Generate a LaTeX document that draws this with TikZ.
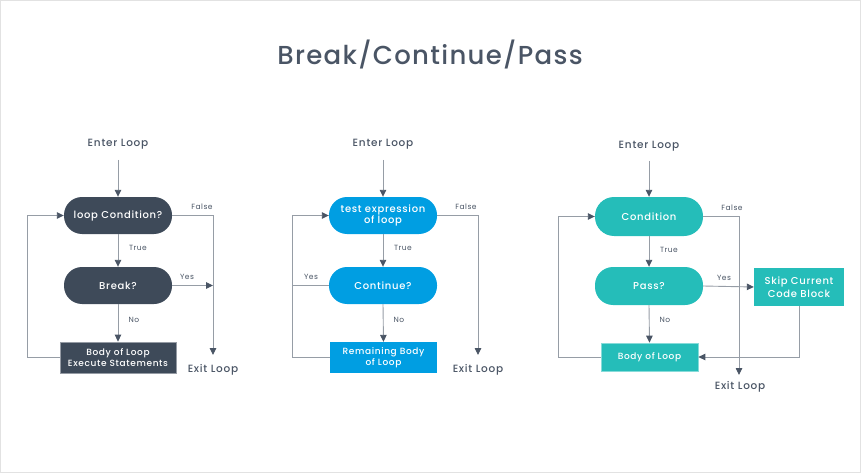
\documentclass[tikz,border=0pt]{standalone}
\usepackage{fontspec}
\setmainfont{Poppins}[LetterSpace=6]
\newfontfamily\pmed{Poppins Medium}[LetterSpace=7]
\newfontfamily\ptitle{Poppins Medium}[LetterSpace=5]
\usetikzlibrary{arrows.meta}
\definecolor{slate}{HTML}{3E4A59}
\definecolor{cblue}{HTML}{009EE2}
\definecolor{cteal}{HTML}{25BDB9}
\definecolor{lineg}{HTML}{969DA6}
\definecolor{tipc}{HTML}{4A5565}
\definecolor{txt}{HTML}{4A5565}
\definecolor{frame}{HTML}{E2E2E2}
\tikzset{
  stadium/.style={rounded corners=18pt, minimum width=108pt, minimum height=37pt, inner sep=2pt, text=white, align=center, font=\pmed\fontsize{10}{12}\selectfont},
  boxnode/.style={minimum height=31pt, inner sep=2pt, text=white, align=center, font=\pmed\fontsize{9}{11}\selectfont},
  outer/.style={text=txt, font=\pmed\fontsize{10.5}{12}\selectfont, inner sep=0pt},
  lbl/.style={text=txt, font=\fontsize{7.5}{9}\selectfont, inner sep=0pt},
  conn/.style={draw=lineg, line width=0.9pt},
  arr/.style={conn, -{Triangle[length=7pt,width=6.5pt,color=tipc]}},
}
\begin{document}
\begin{tikzpicture}[x=1pt,y=-1pt]
\useasboundingbox (0,0) rectangle (861,473);
\draw[frame, line width=1.2pt] (0.6,0.6) rectangle (860.4,472.4);
\node[text=txt, font=\ptitle\fontsize{26}{30}\selectfont, inner sep=0pt] (title) at (430,55) {Break/Continue/Pass};

% ---------- panel 1 ----------
\node[outer] (e1) at (118,144) {Enter Loop};
\node[stadium, fill=slate] (c1) at (118,215.5) {loop Condition?};
\node[stadium, fill=slate] (b1) at (118,285.5) {Break?};
\node[boxnode, fill=slate, draw=slate!55!white, line width=0.7pt, minimum width=116pt] (r1) at (118,357.5) {Body of Loop\\Execute Statements};
\node[outer] (x1) at (213,370) {Exit Loop};
\coordinate (e1a) at (118,160);
\coordinate (x1t) at (213,355);
\coordinate (y1) at (213,285.5);
\coordinate (l1) at (27,0);
\draw[arr] (e1a) -- (c1.north);
\draw[arr] (c1.east) -| (x1t);
\draw[arr] (c1.south) -- (b1.north);
\draw[arr] (b1.east) -- (y1);
\draw[arr] (b1.south) -- (r1.north);
\draw[arr] (r1.west) -- (r1.west -| l1) |- (c1.west);
\node[lbl] (f1) at (202,207) {False};
\node[lbl] (t1) at (138,248) {True};
\node[lbl] (ys1) at (187,277) {Yes};
\node[lbl] (n1) at (134,320) {No};

% ---------- panel 2 ----------
\node[outer] (e2) at (383,144) {Enter Loop};
\node[stadium, fill=cblue] (c2) at (383,215.5) {test expression\\[-1pt]of loop};
\node[stadium, fill=cblue] (k2) at (383,285.5) {Continue?};
\node[boxnode, fill=cblue, minimum width=107pt] (r2) at (383.5,357.5) {Remaining Body\\of Loop};
\node[outer] (x2) at (478,370) {Exit Loop};
\coordinate (e2a) at (383,160);
\coordinate (x2t) at (478,355);
\coordinate (l2) at (292,0);
\draw[arr] (e2a) -- (c2.north);
\draw[arr] (c2.east) -| (x2t);
\draw[arr] (c2.south) -- (k2.north);
\draw[conn] (k2.west) -- (k2.west -| l2);
\draw[arr] (k2.south) -- (r2.north);
\draw[arr] (r2.west) -- (r2.west -| l2) |- (c2.west);
\node[lbl] (f2) at (466,207) {False};
\node[lbl] (t2) at (403,248) {True};
\node[lbl] (ys2) at (311,277) {Yes};
\node[lbl] (n2) at (399,320) {No};

% ---------- panel 3 ----------
\node[outer] (e3) at (649,146) {Enter Loop};
\node[stadium, fill=cteal, minimum height=39pt, rounded corners=19pt] (c3) at (649,216.5) {Condition};
\node[stadium, fill=cteal, minimum height=38pt] (p3) at (649,286) {Pass?};
\node[boxnode, fill=cteal, draw=cteal!55!white, line width=0.7pt, minimum width=97pt, minimum height=28pt] (r3) at (649.5,357) {Body of Loop};
\node[boxnode, fill=cteal, minimum width=90pt, minimum height=38pt, font=\pmed\fontsize{10}{12.5}\selectfont] (s3) at (799,287) {Skip Current\\Code Block};
\node[outer] (x3) at (740,387) {Exit Loop};
\coordinate (e3a) at (649,161);
\coordinate (x3t) at (739,375);
\coordinate (l3) at (558,0);
\draw[arr] (e3a) -- (c3.north);
\draw[arr] (s3.south) |- (r3.east);
\draw[arr] (c3.east) -| (x3t);
\draw[arr] (c3.south) -- (p3.north);
\draw[arr] (p3.east) -- (s3.west);
\draw[arr] (p3.south) -- (r3.north);
\draw[arr] (r3.west) -- (r3.west -| l3) |- (c3.west);
\node[lbl] (f3) at (732,208) {False};
\node[lbl] (t3) at (669,250) {True};
\node[lbl] (ys3) at (724,278) {Yes};
\node[lbl] (n3) at (665,320) {No};
\end{tikzpicture}
\end{document}
